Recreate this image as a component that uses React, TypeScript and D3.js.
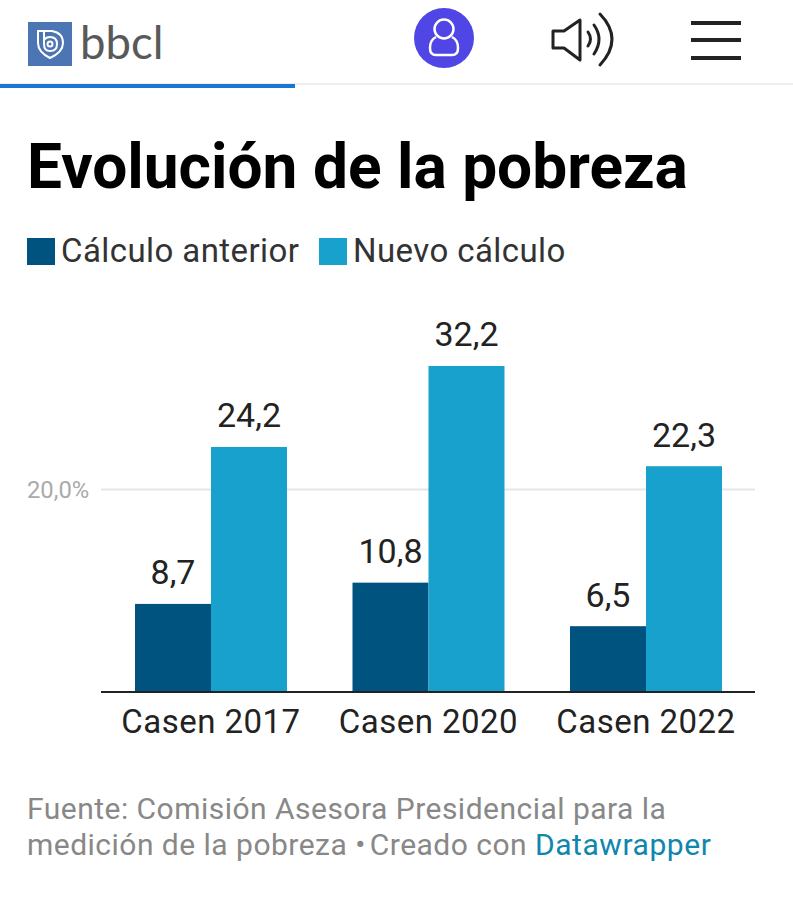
import { useEffect, useRef } from 'react';
import * as d3 from 'd3';

const categories = ['Casen 2017', 'Casen 2020', 'Casen 2022'];
const seriesNames = ['Cálculo anterior', 'Nuevo cálculo'];
const calculoAnterior = [8.7, 10.8, 6.5];
const nuevoCalculo = [24.2, 32.2, 22.3];
const yTicks = [20];
const colors = ['#00537f', '#18a1cd'];
const fmt = (v: number) => v.toFixed(1).replace('.', ',');

const App = () => {
  const svgRef = useRef(null);

  useEffect(() => {
    const svg = d3.select(svgRef.current);
    svg.selectAll('*').remove();
    svg.attr('width', 793).attr('height', 900);

    const font = 'Roboto, sans-serif';

    // top bar of the site
    svg.append('rect').attr('width', 793).attr('height', 900).attr('fill', '#fff');
    svg.append('line').attr('x1', 0).attr('x2', 793).attr('y1', 84).attr('y2', 84).attr('stroke', '#e8e8e8').attr('stroke-width', 1.5);
    svg.append('rect').attr('x', 0).attr('y', 84).attr('width', 295).attr('height', 4).attr('fill', '#1877d2');

    svg.append('rect').attr('x', 28).attr('y', 22).attr('width', 44).attr('height', 44).attr('fill', '#4c75b3');
    const logo = svg.append('g').attr('fill', 'none').attr('stroke', '#fff').attr('stroke-width', 2);
    logo.append('path').attr('d', 'M38 31 H52 Q63 33 63 43 Q63 52 50 58 Q38 52 38 43 Z');
    logo.append('path').attr('d', 'M44 31 V44 Q44 51 50 51 Q57 51 57 44 Q57 37 50 37 Q46 37 44 40');
    logo.append('circle').attr('cx', 50).attr('cy', 44).attr('r', 2.5);
    svg.append('text').attr('x', 80).attr('y', 59).attr('font-family', 'Lato, sans-serif').attr('font-size', 45.5).attr('fill', '#58595b').text('bbcl');

    svg.append('circle').attr('cx', 444).attr('cy', 38).attr('r', 30).attr('fill', '#4f46e5');
    const user = svg.append('g').attr('fill', 'none').attr('stroke', '#fff').attr('stroke-width', 2.5);
    user.append('circle').attr('cx', 444).attr('cy', 29).attr('r', 9.5);
    user.append('path').attr('d', 'M436 37 Q430 40 430 48 Q430 55 436 55 H452 Q458 55 458 48 Q458 40 452 37');

    const speaker = svg.append('g').attr('fill', 'none').attr('stroke', '#222').attr('stroke-width', 3).attr('stroke-linejoin', 'round').attr('stroke-linecap', 'round');
    speaker.append('path').attr('d', 'M553 31 H564 L580 20 V60 L564 48 H553 Z');
    speaker.append('path').attr('d', 'M588 32 Q593 39 588 46');
    speaker.append('path').attr('d', 'M594 25 Q604 39 594 54');
    speaker.append('path').attr('d', 'M600 14 Q624 39 600 65');

    [21, 38, 56].forEach(y => {
      svg.append('rect').attr('x', 691).attr('y', y).attr('width', 50).attr('height', 4).attr('fill', '#222');
    });

    // title and legend
    svg.append('text').attr('x', 27).attr('y', 188).attr('font-family', font).attr('font-weight', 700).attr('font-size', 62.2).attr('fill', '#000').text('Evolución de la pobreza');

    const legendX = [27, 319];
    seriesNames.forEach((name, i) => {
      svg.append('rect').attr('x', legendX[i]).attr('y', 238).attr('width', 28).attr('height', 27).attr('fill', colors[i]);
      svg.append('text').attr('x', legendX[i] + 34).attr('y', 262).attr('font-family', font).attr('font-size', 33).attr('letter-spacing', 0.42).attr('fill', '#333').text(name);
    });

    // chart
    const x0 = d3.scalePoint<string>().domain(categories).range([211, 646]);
    const y = d3.scaleLinear().domain([0, 20]).range([692, 489.5]);
    const barW = 76;

    yTicks.forEach(t => {
      svg.append('line').attr('x1', 101).attr('x2', 755).attr('y1', y(t)).attr('y2', y(t)).attr('stroke', '#e5e5e5').attr('stroke-width', 2);
      svg.append('text').attr('x', 27).attr('y', y(t) + 8).attr('font-family', font).attr('font-size', 23.8).attr('fill', '#aaaaaa').text(`${fmt(t)}%`);
    });

    [calculoAnterior, nuevoCalculo].forEach((values, s) => {
      svg.append('g').selectAll('rect').data(values).enter().append('rect')
        .attr('x', (_, i) => (x0(categories[i]) as number) - barW + s * barW)
        .attr('y', d => y(d))
        .attr('width', barW)
        .attr('height', d => y(0) - y(d))
        .attr('fill', colors[s]);
      svg.append('g').selectAll('text').data(values).enter().append('text')
        .attr('x', (_, i) => (x0(categories[i]) as number) - barW / 2 + s * barW)
        .attr('y', d => y(d) - 19.5)
        .attr('text-anchor', 'middle')
        .attr('font-family', font)
        .attr('font-size', 34)
        .attr('fill', '#222')
        .text(d => fmt(d));
    });

    svg.append('line').attr('x1', 101).attr('x2', 755).attr('y1', y(0)).attr('y2', y(0)).attr('stroke', '#222').attr('stroke-width', 2);

    categories.forEach(c => {
      svg.append('text').attr('x', x0(c) as number).attr('y', 733).attr('text-anchor', 'middle').attr('font-family', font).attr('font-size', 33).attr('letter-spacing', 0.47).attr('fill', '#222').text(c);
    });

    // footer
    svg.append('text').attr('x', 27).attr('y', 819).attr('font-family', font).attr('font-size', 30).attr('letter-spacing', 0.48).attr('fill', '#888').text('Fuente: Comisión Asesora Presidencial para la');
    const foot = svg.append('text').attr('x', 27).attr('y', 855).attr('font-family', font).attr('font-size', 30).attr('letter-spacing', 0.48).attr('fill', '#888');
    foot.append('tspan').text('medición de la pobreza •');
    foot.append('tspan').attr('dx', 4).text('Creado con ');
    foot.append('tspan').attr('fill', '#0e86ad').attr('letter-spacing', 0.55).text('Datawrapper');
  }, []);

  return <svg ref={svgRef} style={{ position: 'absolute', top: 0, left: 0 }}></svg>;
};

export default App;
